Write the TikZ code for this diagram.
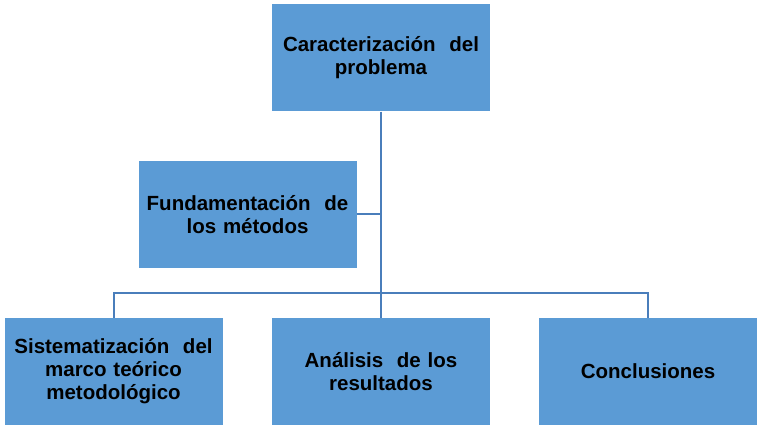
\documentclass[tikz,border=0pt]{standalone}
\usepackage{fontspec}
\setmainfont{Liberation Sans}
\usepackage{tikz}
\usetikzlibrary{positioning, calc}
\definecolor{boxblue}{HTML}{5B9BD5}
\definecolor{lineblue}{HTML}{4A7EBB}
\tikzset{
  stagebox/.style={
    rectangle, fill=boxblue, draw=none,
    minimum width=218pt, minimum height=107pt,
    text width=205pt, align=center, inner sep=0pt,
    font=\fontsize{20.5}{23}\selectfont\bfseries
  },
  linkline/.style={
    draw=lineblue, line width=2pt
  }
}

\begin{document}
\begin{tikzpicture}[x=1pt, y=-1pt]
    \useasboundingbox (0,0) rectangle (760,430);

    \node[stagebox] (prob) at (381,58) {Caracterización\ \ del\\problema};
    \node[stagebox] (fund) at (247.5,214.5) {Fundamentación\ \ de\\los\ métodos};
    \node[stagebox] (sist) at (113.5,371.5) {Sistematización\ \ del\\marco teórico\\metodológico};
    \node[stagebox] (anal) at (381,371.5) {Análisis\ \ de los\\resultados};
    \node[stagebox] (concl) at (648,371.5) {Conclusiones};

    \coordinate (bus) at (381,293);

    \draw[linkline] (prob.south) -- (anal.north);
    \draw[linkline] (fund.east) -- (fund.east -| prob.south);
    \draw[linkline] (sist.north) |- (bus) -| (concl.north);
  \end{tikzpicture}
\end{document}
